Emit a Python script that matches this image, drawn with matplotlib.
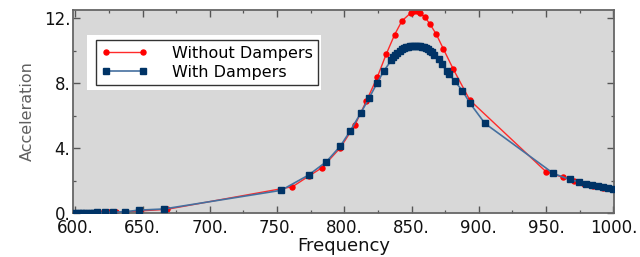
import matplotlib.pyplot as plt
from matplotlib.patches import Rectangle
from matplotlib.ticker import MultipleLocator, FuncFormatter

# Without Dampers (red)
x_without = [600, 605, 610, 615, 620, 625, 630, 638, 648, 668, 761.4, 774, 783.4, 797,
             807.7, 816.2, 824.4, 831.1, 837.3, 842.8, 849.5, 851.7, 853.8, 856.2, 859.7,
             863.7, 868.4, 873.7, 881.1, 893.3, 950, 962.5, 971.1, 978, 985, 992, 1000]
y_without = [0.0, 0.0, 0.01, 0.02, 0.03, 0.04, 0.05, 0.08, 0.13, 0.23, 1.62, 2.3, 2.79, 4.02,
             5.4, 6.87, 8.35, 9.78, 10.97, 11.83, 12.33, 12.43, 12.42, 12.3, 12.08,
             11.63, 11.0, 10.09, 8.84, 6.95, 2.54, 2.2, 1.97, 1.8, 1.68, 1.57, 1.46]

# With Dampers (blue)
x_with = [600, 602, 604, 606, 608, 610, 612, 614, 616.2, 622.2, 627.8, 637.1, 647, 665.7,
          753, 773.4, 786.6, 797, 804.5, 812, 818.5, 824.4, 829.3,
          835, 836.5, 838, 839.5, 841, 842.5, 844, 845.5, 847, 848.5, 850, 851.5, 853,
          854.5, 856, 857.5, 859, 860.5, 862, 863.5, 865, 867, 870, 872.5, 876, 878,
          882.3, 887.8, 893.5, 904.5, 955.4, 967.4, 974.1, 979.9, 984.1, 988.6, 992.3,
          996, 999.8]
y_with = [0.0, 0.0, 0.01, 0.01, 0.02, 0.02, 0.03, 0.03, 0.04, 0.05, 0.06, 0.08, 0.18, 0.25,
          1.4, 2.34, 3.16, 4.12, 5.08, 6.13, 7.1, 8.02, 8.74,
          9.42, 9.6, 9.75, 9.88, 9.98, 10.07, 10.14, 10.2, 10.25, 10.28, 10.3, 10.31, 10.31,
          10.3, 10.28, 10.25, 10.2, 10.14, 10.07, 9.99, 9.9, 9.75, 9.46, 9.15, 8.75, 8.55,
          8.1, 7.53, 6.75, 5.52, 2.44, 2.07, 1.93, 1.78, 1.72, 1.66, 1.58,
          1.52, 1.46]

fig = plt.figure(figsize=(6.4, 2.57), dpi=100)
ax = fig.add_axes([0.114, 0.171, 0.845, 0.79])
ax.set_facecolor('#d8d8d8')

ax.plot(x_without, y_without, color='#ff2a2a', lw=1.0, marker='o', ms=3.6,
        mfc='#ff0000', mec='#ff0000', label='Without Dampers', zorder=2)
ax.plot(x_with, y_with, color='#45709f', lw=1.2, marker='s', ms=4.8,
        mfc='#003366', mec='#003366', label='With Dampers', zorder=3)

ax.set_xlim(598.2, 1000.3)
ax.set_ylim(0, 12.5)
ax.xaxis.set_major_locator(MultipleLocator(50))
ax.xaxis.set_minor_locator(MultipleLocator(25))
ax.yaxis.set_major_locator(MultipleLocator(4))
ax.yaxis.set_minor_locator(MultipleLocator(2))
fmt = FuncFormatter(lambda v, p: '%d.' % v)
ax.xaxis.set_major_formatter(fmt)
ax.yaxis.set_major_formatter(fmt)
ax.tick_params(which='both', direction='in', top=True, right=True, color='#555555',
               labelsize=12, labelcolor='#111111', pad=2)
ax.tick_params(axis='x', pad=4)
ax.tick_params(which='major', length=5, width=1.0)
ax.tick_params(which='minor', length=2.5, width=0.9)
for s in ax.spines.values():
    s.set_color('#666666')
    s.set_linewidth(1.3)

ax.set_xlabel('Frequency', fontsize=13, color='#111111', labelpad=0)
ax.set_ylabel('Acceleration', fontsize=11.5, color='#606060', labelpad=6)

# white box behind the legend
ax.add_patch(Rectangle((87 / 640, 1 - 90 / 257), 234 / 640, 55 / 257,
                       transform=fig.transFigure, facecolor='white',
                       edgecolor='none', zorder=4, clip_on=False))
leg = ax.legend(loc='upper left', bbox_to_anchor=(96 / 640, 1 - 40 / 257),
                bbox_transform=fig.transFigure, borderaxespad=0, fontsize=11.5,
                numpoints=2, handlelength=2.9, handletextpad=1.5, labelspacing=0.25,
                borderpad=0.35, fancybox=False, framealpha=1, edgecolor='#333333')
leg.get_frame().set_linewidth(1.0)
leg.set_zorder(5)

fig.savefig('out.png', dpi=100)
